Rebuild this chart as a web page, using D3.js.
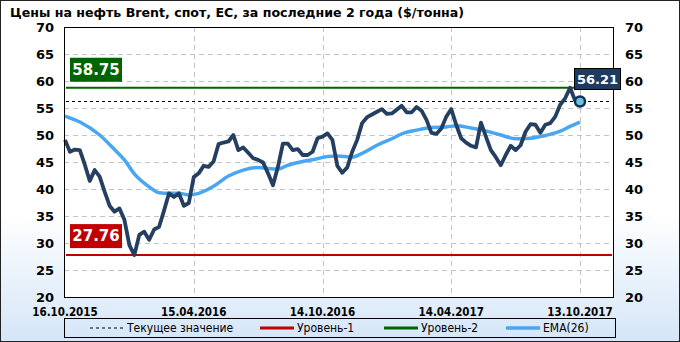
<!DOCTYPE html>
<html>
<head>
<meta charset="utf-8">
<script src="https://cdn.jsdelivr.net/npm/d3@7"></script>
<style>
  html, body { margin: 0; padding: 0; background: #fff; }
  svg { display: block; }
</style>
</head>
<body>
<div id="chart"></div>
<script>
// weekly Brent spot prices, first week 16.10.2015
const firstWeek = "16.10.2015";
const prices = [
  49.1, 46.9, 47.3, 47.2, 44.5, 41.5, 43.5, 42.3, 39.5, 36.9,
  35.8, 36.4, 34.3, 29.6, 27.76, 31.5, 32.1, 30.6, 32.5, 33.0,
  36.0, 39.2, 38.5, 39.2, 36.9, 37.4, 42.2, 42.9, 44.3, 44.1,
  45.1, 48.3, 48.6, 48.8, 50.0, 47.2, 47.7, 46.7, 45.7, 45.4,
  44.9, 42.9, 40.7, 44.1, 48.4, 48.4, 47.2, 47.4, 46.3, 46.3,
  46.9, 49.4, 49.7, 50.3, 49.1, 44.3, 43.0, 44.0, 46.9, 49.1,
  52.2, 53.3, 53.8, 54.3, 54.8, 53.9, 54.0, 54.7, 55.4, 54.2,
  54.2, 55.2, 54.5, 52.8, 50.4, 50.2, 51.2, 53.4, 54.8, 51.9,
  49.4, 48.6, 48.0, 47.7, 52.3, 49.7, 47.2, 45.9, 44.4, 46.3,
  48.0, 47.2, 48.1, 50.6, 52.0, 51.9, 50.4, 51.9, 52.2, 53.4,
  55.6, 56.8, 58.75, 56.4, 56.21
];

// EMA(26) read at these week numbers
const emaWeeks = [0, 3, 7, 10, 12, 14, 17, 19, 21, 23, 25, 27, 30, 33, 36, 39, 41, 43, 45, 48,
  50, 53, 55, 58, 60, 63, 66, 68, 71, 74, 77, 79, 82, 84, 86, 88, 91, 94, 97, 100, 102, 104];
const emaValues = [53.5, 52.4, 50.0, 47.3, 45.4, 42.8, 40.4, 39.3, 39.2, 39.2, 38.9, 39.2, 40.5, 42.4, 43.5, 44.0, 43.8, 43.7, 44.4, 45.1,
  45.4, 46.0, 46.1, 45.9, 46.6, 48.1, 49.3, 50.2, 50.9, 51.4, 51.5, 51.7, 51.3, 51.0, 50.5, 50.0, 49.3, 49.4, 49.9, 50.7, 51.6, 52.4];

const tickLabels = ["16.10.2015", "15.04.2016", "14.10.2016", "14.04.2017", "13.10.2017"];
const yTicks = [20, 25, 30, 35, 40, 45, 50, 55, 60, 65, 70];

const level1 = 27.76;
const level2 = 58.75;
const current = 56.21;

const legendItems = [
  {name: "Текущее значение", color: "#000", dash: "3,3", width: 1},
  {name: "Уровень-1", color: "#C00000", dash: null, width: 3},
  {name: "Уровень-2", color: "#006400", dash: null, width: 3},
  {name: "EMA(26)", color: "#49A6F2", dash: null, width: 3.5}
];

const W = 680, H = 342;
const plot = {left: 64, right: 613, top: 27, bottom: 297};

const parse = d3.timeParse("%d.%m.%Y");
const start = parse(firstWeek);
const series = prices.map((v, i) => ({date: d3.timeWeek.offset(start, i), value: v}));
const ema = emaWeeks.map((w, i) => ({date: d3.timeWeek.offset(start, w), value: emaValues[i]}));

const svg = d3.select("#chart").append("svg")
  .attr("width", W)
  .attr("height", H);

const defs = svg.append("defs");
const grad = defs.append("linearGradient")
  .attr("id", "bg")
  .attr("x1", 0).attr("y1", 0).attr("x2", 0).attr("y2", 1);
grad.append("stop").attr("offset", "0%").attr("stop-color", "#ffffff");
grad.append("stop").attr("offset", "62%").attr("stop-color", "#ffffff");
grad.append("stop").attr("offset", "100%").attr("stop-color", "#d5e6f8");

svg.append("rect")
  .attr("x", 0.5).attr("y", 0.5)
  .attr("width", W - 1).attr("height", H - 1)
  .attr("fill", "url(#bg)")
  .attr("stroke", "#222")
  .attr("stroke-width", 1);

svg.append("text")
  .attr("x", 10)
  .attr("y", 17)
  .attr("font-family", "DejaVu Sans, sans-serif")
  .attr("font-weight", "bold")
  .attr("font-size", "12.6px")
  .attr("fill", "#000")
  .text("Цены на нефть Brent, спот, ЕС, за последние 2 года ($/тонна)");

var x = d3.scaleTime()
  .domain([start, d3.timeWeek.offset(start, prices.length - 1)])
  .range([65, 580]);

var y = d3.scaleLinear()
  .domain([20, 70])
  .range([plot.bottom, plot.top]);

svg.append("rect")
  .attr("x", plot.left).attr("y", plot.top)
  .attr("width", plot.right - plot.left).attr("height", plot.bottom - plot.top)
  .attr("fill", "#fff");

// grid
svg.append("g")
  .selectAll("line")
  .data(yTicks.slice(1, -1))
  .enter().append("line")
    .attr("x1", plot.left).attr("x2", plot.right)
    .attr("y1", d => Math.round(y(d)) + 0.5)
    .attr("y2", d => Math.round(y(d)) + 0.5)
    .attr("stroke", "#c4c4c4")
    .attr("stroke-dasharray", "5,4");

const tickDates = tickLabels.map(parse);
svg.append("g")
  .selectAll("line")
  .data(tickDates.slice(1))
  .enter().append("line")
    .attr("x1", d => Math.round(x(d)) + 0.5)
    .attr("x2", d => Math.round(x(d)) + 0.5)
    .attr("y1", plot.top).attr("y2", plot.bottom)
    .attr("stroke", "#c4c4c4")
    .attr("stroke-dasharray", "5,4");

// level lines
svg.append("line")
  .attr("x1", plot.left + 2).attr("x2", plot.right - 1)
  .attr("y1", y(level2)).attr("y2", y(level2))
  .attr("stroke", "#006400").attr("stroke-width", 2);
svg.append("line")
  .attr("x1", plot.left + 2).attr("x2", plot.right - 1)
  .attr("y1", y(level1)).attr("y2", y(level1))
  .attr("stroke", "#C00000").attr("stroke-width", 2);
svg.append("line")
  .attr("x1", plot.left + 2).attr("x2", plot.right - 1)
  .attr("y1", Math.round(y(current)) + 0.5).attr("y2", Math.round(y(current)) + 0.5)
  .attr("stroke", "#000").attr("stroke-width", 1)
  .attr("stroke-dasharray", "3,3");

// EMA and price lines
var line = d3.line()
  .x(d => x(d.date))
  .y(d => y(d.value));

svg.append("path")
  .datum(ema)
  .attr("d", line.curve(d3.curveMonotoneX))
  .attr("fill", "none")
  .attr("stroke", "#49A6F2")
  .attr("stroke-width", 3.5);

svg.append("path")
  .datum(series)
  .attr("d", line.curve(d3.curveLinear))
  .attr("fill", "none")
  .attr("stroke", "#243F60")
  .attr("stroke-width", 3.8)
  .attr("stroke-linejoin", "round");

var last = series[series.length - 1];
svg.append("circle")
  .attr("cx", x(last.date)).attr("cy", y(last.value))
  .attr("r", 5)
  .attr("fill", "#6FC0DA")
  .attr("stroke", "#10305A")
  .attr("stroke-width", 2.5);

// frame
svg.append("rect")
  .attr("x", plot.left + 0.5).attr("y", plot.top + 0.5)
  .attr("width", plot.right - plot.left).attr("height", plot.bottom - plot.top)
  .attr("fill", "none")
  .attr("stroke", "#000");

// level value boxes
function valueBox(val, fill, bx, by, bw, bh, size, stroke) {
  svg.append("rect")
    .attr("x", bx).attr("y", by)
    .attr("width", bw).attr("height", bh)
    .attr("fill", fill)
    .attr("stroke", stroke || "none");
  svg.append("text")
    .attr("x", bx + bw / 2)
    .attr("y", by + bh / 2)
    .attr("dy", "0.36em")
    .attr("text-anchor", "middle")
    .attr("font-family", "DejaVu Sans, sans-serif")
    .attr("font-weight", "bold")
    .attr("font-size", size)
    .attr("fill", "#fff")
    .text(val.toFixed(2));
}
valueBox(level2, "#006400", 70, y(level2) - 30, 52, 24, "15px");
valueBox(level1, "#C00000", 70, y(level1) - 31, 52, 24, "15px");
valueBox(current, "#1F3A5F", 574.5, 68.5, 46, 21, "13px", "#000");

// axes labels
svg.append("g")
  .selectAll("text")
  .data(yTicks)
  .enter().append("text")
    .attr("x", 54)
    .attr("y", d => y(d))
    .attr("dy", "0.36em")
    .attr("text-anchor", "end")
    .attr("font-family", "DejaVu Sans, sans-serif")
    .attr("font-weight", "bold")
    .attr("font-size", "13px")
    .text(d => d);

svg.append("g")
  .selectAll("text")
  .data(yTicks)
  .enter().append("text")
    .attr("x", 625)
    .attr("y", d => y(d))
    .attr("dy", "0.36em")
    .attr("text-anchor", "start")
    .attr("font-family", "DejaVu Sans, sans-serif")
    .attr("font-weight", "bold")
    .attr("font-size", "13px")
    .text(d => d);

svg.append("g")
  .selectAll("text")
  .data(tickLabels)
  .enter().append("text")
    .attr("x", d => x(parse(d)))
    .attr("y", 312)
    .attr("dy", "0.36em")
    .attr("text-anchor", "middle")
    .attr("font-family", "Liberation Sans Narrow, DejaVu Sans Condensed, sans-serif")
    .attr("font-weight", "bold")
    .attr("font-size", "11.5px")
    .text(d => d);

// legend
svg.append("rect")
  .attr("x", 64.5).attr("y", 318.5)
  .attr("width", 551).attr("height", 19)
  .attr("fill", "none")
  .attr("stroke", "#000");

const legendX = [90, 260, 384, 506];
const leg = svg.append("g")
  .selectAll("g")
  .data(legendItems)
  .enter().append("g")
    .attr("transform", (d, i) => "translate(" + legendX[i] + ",328)");
leg.append("line")
  .attr("x1", 0).attr("x2", 34)
  .attr("y1", 0).attr("y2", 0)
  .attr("stroke", d => d.color)
  .attr("stroke-width", d => d.width)
  .attr("stroke-dasharray", d => d.dash);
leg.append("text")
  .attr("x", 37)
  .attr("y", 0)
  .attr("dy", "0.36em")
  .attr("font-family", "DejaVu Sans Condensed, DejaVu Sans, sans-serif")
  .attr("font-size", "12px")
  .text(d => d.name);
</script>
</body>
</html>
